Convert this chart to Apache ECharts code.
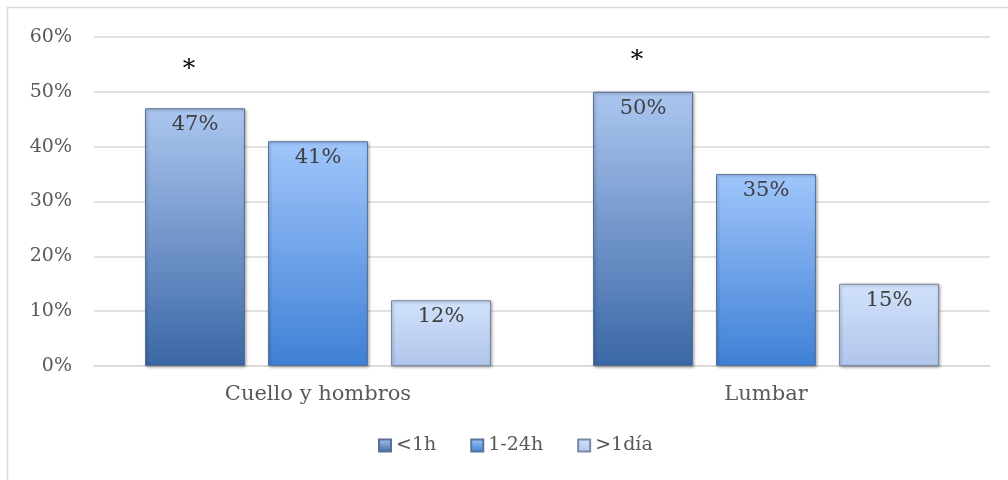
<!DOCTYPE html>
<html>
<head>
<meta charset="utf-8">
<script src="https://cdn.jsdelivr.net/npm/echarts@6/dist/echarts.min.js"></script>
<style>
  html, body { margin: 0; padding: 0; background: #ffffff; }
  #chart { width: 1008px; height: 480px; }
</style>
</head>
<body>
<div id="chart"></div>
<script>
// Categories and series values (percent)
const categories = ['Cuello y hombros', 'Lumbar'];
const seriesNames = ['<1h', '1-24h', '>1día'];
const valuesUnder1h = [47, 50];
const values1to24h = [41, 35];
const valuesOver1day = [12, 15];
// Level (percent) where the significance asterisk sits above the <1h bars
const asteriskLevel = [56.3, 58];
const yTicks = [0, 10, 20, 30, 40, 50, 60];

const FONT = 'DejaVu Serif';

function vGrad(top, bottom) {
  return new echarts.graphic.LinearGradient(0, 0, 0, 1, [
    { offset: 0, color: top },
    { offset: 1, color: bottom }
  ]);
}

const barStyleBase = {
  borderWidth: 1,
  shadowBlur: 3,
  shadowOffsetX: 1,
  shadowOffsetY: 1,
  shadowColor: 'rgba(0,0,0,0.35)'
};

const valueLabel = {
  show: true,
  position: 'insideTop',
  distance: 6,
  formatter: p => p.value + '%',
  fontFamily: FONT,
  fontSize: 21,
  color: '#404040'
};

const chart = echarts.init(document.getElementById('chart'));
chart.setOption({
  animation: false,
  backgroundColor: '#ffffff',
  graphic: [{
    type: 'rect',
    shape: { x: 7.5, y: 7.5, width: 1100, height: 600 },
    style: { fill: 'none', stroke: '#d9d9d9', lineWidth: 1.5 },
    silent: true,
    z: -1
  }],
  grid: { left: 94, right: 18, top: 37, bottom: 114 },
  legend: {
    data: seriesNames,
    bottom: 20,
    left: 373,
    itemWidth: 12,
    itemHeight: 12,
    itemGap: 34,
    icon: 'rect',
    textStyle: { fontFamily: FONT, fontSize: 19, color: '#595959', padding: [0, 0, 0, 0] }
  },
  xAxis: {
    type: 'category',
    data: categories,
    axisLine: { lineStyle: { color: '#d9d9d9', width: 1.5 } },
    axisTick: { show: false },
    axisLabel: { fontFamily: FONT, fontSize: 21, color: '#595959', margin: 18 }
  },
  yAxis: {
    type: 'value',
    min: yTicks[0],
    max: yTicks[yTicks.length - 1],
    interval: 10,
    axisLine: { show: false },
    axisTick: { show: false },
    splitLine: { lineStyle: { color: '#d9d9d9', width: 1.5 } },
    axisLabel: { fontFamily: FONT, fontSize: 19, color: '#595959', margin: 22, formatter: '{value}%' }
  },
  series: [
    {
      name: seriesNames[0],
      type: 'bar',
      stack: 'a',
      data: valuesUnder1h,
      barWidth: 100,
      barGap: '23%',
      itemStyle: Object.assign({ color: vGrad('#acc6f0', '#3a67a6'), borderColor: '#5a6f92' }, barStyleBase),
      label: valueLabel
    },
    {
      // transparent spacer above the <1h bars carrying the asterisk
      name: 'sig',
      type: 'bar',
      stack: 'a',
      silent: true,
      data: asteriskLevel.map((lv, i) => lv - valuesUnder1h[i]),
      itemStyle: { color: 'transparent' },
      label: {
        show: true,
        position: 'insideTop',
        distance: 0,
        offset: [-6, 0],
        formatter: '*',
        fontFamily: FONT,
        fontSize: 25,
        color: '#000000'
      }
    },
    {
      name: seriesNames[1],
      type: 'bar',
      data: values1to24h,
      barWidth: 100,
      itemStyle: Object.assign({ color: vGrad('#a0c6fb', '#3f80d6'), borderColor: '#5a7398' }, barStyleBase),
      label: valueLabel
    },
    {
      name: seriesNames[2],
      type: 'bar',
      data: valuesOver1day,
      barWidth: 100,
      itemStyle: Object.assign({ color: vGrad('#d2e2fb', '#b0c5ea'), borderColor: '#7a8aa6' }, barStyleBase),
      label: valueLabel
    }
  ]
});
</script>
</body>
</html>
